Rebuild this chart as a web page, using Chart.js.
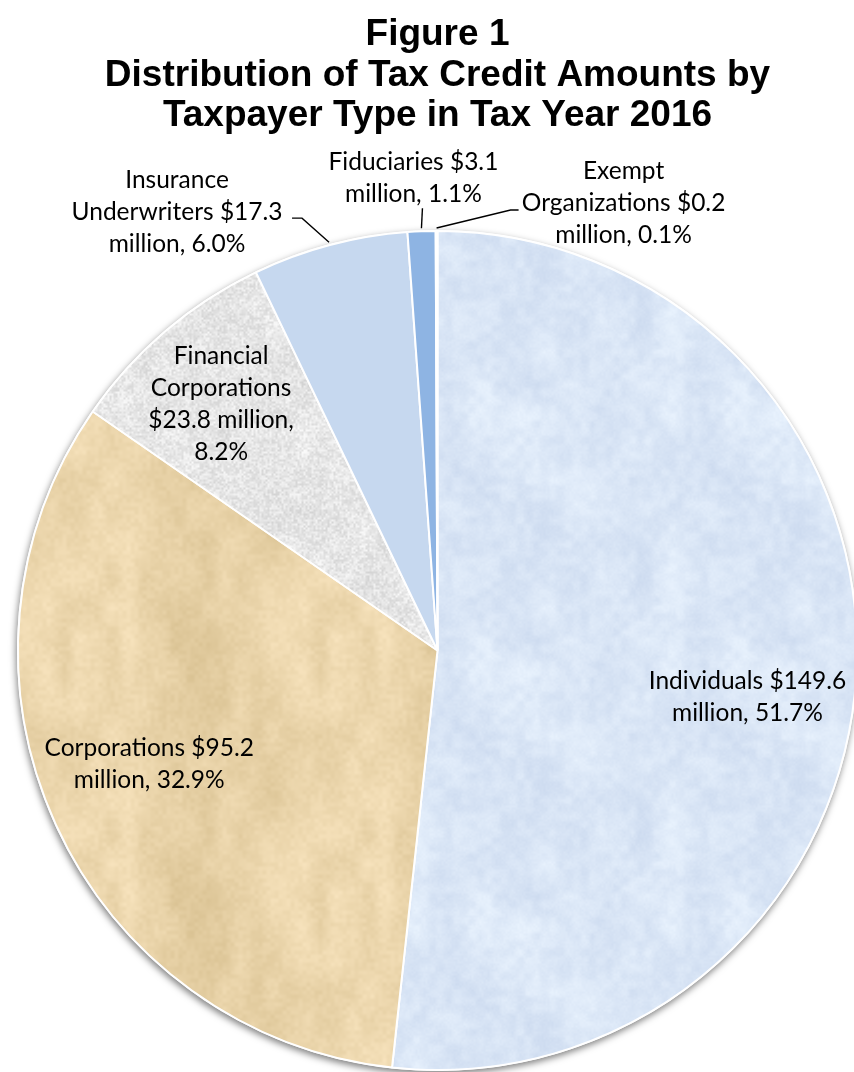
<!DOCTYPE html>
<html>
<head>
<meta charset="utf-8">
<title>Distribution of Tax Credit Amounts by Taxpayer Type, Tax Year 2016</title>
<script src="https://cdn.jsdelivr.net/npm/chart.js@4.4.1/dist/chart.umd.min.js"></script>
<style>
  html, body { margin: 0; padding: 0; background: #ffffff; overflow: hidden; }
  body { width: 854px; height: 1072px; position: relative; }
  #wrap { position: absolute; left: 0; top: 0; width: 880px; height: 1100px; }
</style>
</head>
<body>
<div id="wrap"><canvas id="chart" width="880" height="1100"></canvas></div>
<script>
// Taxpayer types, in clockwise order from 12 o'clock
const categories = ['Individuals', 'Corporations', 'Financial Corporations', 'Insurance Underwriters', 'Fiduciaries', 'Exempt Organizations'];
// Credit amounts, millions of dollars
const amountsMillions = [149.6, 95.2, 23.8, 17.3, 3.1, 0.2];
// Share of the total credit, percent
const sharePercent = [51.7, 32.9, 8.2, 6.0, 1.1, 0.1];

const titleLines = ['Figure 1', 'Distribution of Tax Credit Amounts by', 'Taxpayer Type in Tax Year 2016'];

const money = i => '$' + amountsMillions[i].toFixed(1);
const pct = i => sharePercent[i].toFixed(1) + '%';

// Wrapped text of each slice label
const sliceLabels = [
  ['Individuals ' + money(0), 'million, ' + pct(0)],
  ['Corporations ' + money(1), 'million, ' + pct(1)],
  ['Financial', 'Corporations', money(2) + ' million,', pct(2)],
  ['Insurance', 'Underwriters ' + money(3), 'million, ' + pct(3)],
  ['Fiduciaries ' + money(4), 'million, ' + pct(4)],
  ['Exempt', 'Organizations ' + money(5), 'million, ' + pct(5)]
];

// Label placement: inside labels sit at a fraction of the radius on the slice's mid-angle;
// outside labels hang off the rim point with a leader line (offsets relative to that point).
const labelPlacement = [
  { inside: true, frac: 0.74, dx: 0, dy: 30 },
  { inside: true, frac: 0.75, dx: -2, dy: -17 },
  { inside: true, frac: 0.795, dx: 0, dy: 7 },
  { inside: false, dx: -152, dy: -30, leader: [[-27, -24], [-37, -24]] },
  { inside: false, dx: -8, dy: -50, leader: [[1, -20]] },
  { inside: false, dx: 187, dy: -25, leader: [[74, -18], [82, -18]] }
];

// ---- surface textures (deterministic value noise, tileable) ----
function hash(x, y, seed) {
  let h = (Math.imul(x, 374761393) + Math.imul(y, 668265263) + Math.imul(seed, 982451653)) | 0;
  h = Math.imul(h ^ (h >>> 13), 1274126177);
  h ^= h >>> 16;
  return (h >>> 0) / 4294967296;
}
function valueNoise(x, y, cw, ch, size, seed) {
  const gx = x / cw, gy = y / ch;
  const x0 = Math.floor(gx), y0 = Math.floor(gy);
  const fx = gx - x0, fy = gy - y0;
  const sx = fx * fx * (3 - 2 * fx), sy = fy * fy * (3 - 2 * fy);
  const px = size / cw, py = size / ch;
  const wx = a => ((a % px) + px) % px;
  const wy = a => ((a % py) + py) % py;
  const a = hash(wx(x0), wy(y0), seed), b = hash(wx(x0 + 1), wy(y0), seed);
  const c = hash(wx(x0), wy(y0 + 1), seed), d = hash(wx(x0 + 1), wy(y0 + 1), seed);
  const top = a + (b - a) * sx, bot = c + (d - c) * sx;
  return top + (bot - top) * sy;
}
function makeTexture(base, tint, layers, size) {
  const cv = document.createElement('canvas');
  cv.width = size; cv.height = size;
  const cx = cv.getContext('2d');
  const img = cx.createImageData(size, size);
  for (let y = 0; y < size; y++) {
    for (let x = 0; x < size; x++) {
      let v = 0;
      for (const L of layers) {
        v += (valueNoise(x, y, L.cw, L.ch, size, L.seed) - 0.5) * L.amp;
      }
      const k = (y * size + x) * 4;
      img.data[k] = Math.max(0, Math.min(255, base[0] + v * tint[0]));
      img.data[k + 1] = Math.max(0, Math.min(255, base[1] + v * tint[1]));
      img.data[k + 2] = Math.max(0, Math.min(255, base[2] + v * tint[2]));
      img.data[k + 3] = 255;
    }
  }
  cx.putImageData(img, 0, 0);
  return cx.createPattern(cv, 'repeat');
}

const ctx = document.getElementById('chart').getContext('2d');

const sliceFills = [
  makeTexture([218, 230, 246], [1.0, 0.85, 0.5], [
    { cw: 32, ch: 32, amp: 16, seed: 3 },
    { cw: 8, ch: 8, amp: 12, seed: 7 },
    { cw: 2, ch: 2, amp: 5, seed: 11 }
  ], 256),
  makeTexture([231, 209, 166], [1.0, 1.1, 1.4], [
    { cw: 64, ch: 128, amp: 16, seed: 5 },
    { cw: 16, ch: 32, amp: 14, seed: 9 },
    { cw: 4, ch: 4, amp: 8, seed: 13 }
  ], 256),
  makeTexture([230, 230, 230], [1, 1, 1], [
    { cw: 16, ch: 16, amp: 12, seed: 17 },
    { cw: 2, ch: 2, amp: 30, seed: 19 }
  ], 256),
  '#c6d8ef',
  '#8eb4e3',
  '#dfe8f4'
];

// Soft shadow under the whole disc
const discShadow = {
  id: 'discShadow',
  beforeDatasetsDraw(chart) {
    const arc = chart.getDatasetMeta(0).data[0];
    if (!arc) return;
    const c = chart.ctx;
    c.save();
    c.shadowColor = 'rgba(0,0,0,0.5)';
    c.shadowBlur = 7;
    c.shadowOffsetX = -1;
    c.shadowOffsetY = 3;
    c.fillStyle = '#ffffff';
    c.beginPath();
    c.arc(arc.x, arc.y, arc.outerRadius + 1, 0, Math.PI * 2);
    c.fill();
    c.restore();
  }
};

// Data labels with leader lines
const sliceLabelPlugin = {
  id: 'sliceLabels',
  afterDatasetsDraw(chart) {
    const c = chart.ctx;
    const arcs = chart.getDatasetMeta(0).data;
    const lineH = 32;
    c.save();
    c.font = '24.5px Lato, "Noto Sans", sans-serif';
    c.fillStyle = '#000000';
    c.textAlign = 'center';
    c.textBaseline = 'middle';
    arcs.forEach((arc, i) => {
      const p = labelPlacement[i];
      const mid = (arc.startAngle + arc.endAngle) / 2;
      let lx, ly;
      if (p.inside) {
        lx = arc.x + Math.cos(mid) * arc.outerRadius * p.frac + p.dx;
        ly = arc.y + Math.sin(mid) * arc.outerRadius * p.frac + p.dy;
      } else {
        const ex = arc.x + Math.cos(mid) * (arc.outerRadius + 3);
        const ey = arc.y + Math.sin(mid) * (arc.outerRadius + 3);
        lx = ex + p.dx;
        ly = ey + p.dy;
        c.beginPath();
        c.strokeStyle = '#000000';
        c.lineWidth = 1.4;
        c.moveTo(ex, ey);
        p.leader.forEach(([ox, oy]) => c.lineTo(ex + ox, ey + oy));
        c.stroke();
      }
      const lines = sliceLabels[i];
      const top = ly - (lines.length - 1) * lineH / 2;
      lines.forEach((t, k) => c.fillText(t, lx, top + k * lineH));
    });
    c.restore();
  }
};

new Chart(ctx, {
  type: 'pie',
  data: {
    labels: categories,
    datasets: [{
      data: amountsMillions,
      backgroundColor: sliceFills,
      borderColor: '#ffffff',
      borderWidth: 2
    }]
  },
  options: {
    responsive: false,
    animation: false,
    layout: { padding: { left: 17, right: 22, top: 0, bottom: 29 } },
    plugins: {
      legend: { display: false },
      tooltip: { enabled: false },
      title: {
        display: true,
        text: titleLines,
        color: '#000000',
        font: { family: '"Liberation Sans", Arial, sans-serif', size: 37, weight: 'bold', lineHeight: 1.09 },
        padding: { top: 15, bottom: 94 }
      }
    }
  },
  plugins: [discShadow, sliceLabelPlugin]
});
</script>
</body>
</html>
